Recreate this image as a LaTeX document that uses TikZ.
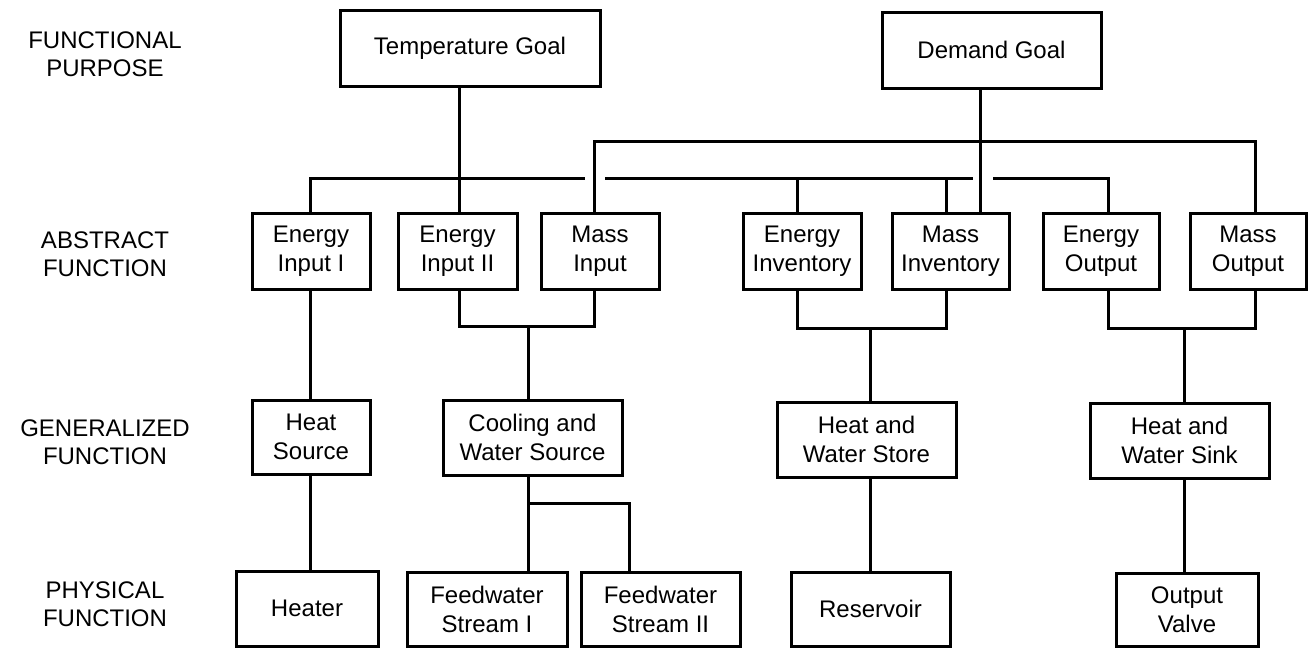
\documentclass[tikz,border=0pt]{standalone}
\usepackage{fontspec}
\setmainfont{Liberation Sans}
\begin{document}
\begin{tikzpicture}[x=0.5pt,y=-0.5pt,
  box/.style={draw,line width=1.5pt,align=center,inner sep=0pt,
    font=\fontsize{12}{14.5}\selectfont},
  lvl/.style={align=center,inner sep=0pt,font=\fontsize{12}{14}\selectfont},
  conn/.style={line width=1.5pt,line join=miter}]
\useasboundingbox (0,0) rectangle (1312,648);
\fill[white] (0,0) rectangle (1312,648);

% level labels
\node[lvl] (l1) at (105,54) {FUNCTIONAL\\PURPOSE};
\node[lvl] (l2) at (105,254) {ABSTRACT\\FUNCTION};
\node[lvl] (l3) at (105,442) {GENERALIZED\\FUNCTION};
\node[lvl] (l4) at (105,604) {PHYSICAL\\FUNCTION};

% functional purpose
\node[box,minimum width=130pt,minimum height=38pt] (tg) at (470,48) {Temperature Goal};
\node[box,minimum width=109.5pt,minimum height=38pt] (dg) at (991.5,50) {Demand Goal};

% abstract function
\node[box,minimum width=59pt,minimum height=38pt] (ei1) at (311,251) {Energy\\Input I};
\node[box,minimum width=59.5pt,minimum height=38pt] (ei2) at (457.5,251) {Energy\\Input II};
\node[box,minimum width=59pt,minimum height=38pt] (mi) at (600,251) {Mass\\Input};
\node[box,minimum width=59pt,minimum height=38pt] (einv) at (802,251) {Energy\\Inventory};
\node[box,minimum width=58.5pt,minimum height=38pt] (minv) at (950.5,251) {Mass\\Inventory};
\node[box,minimum width=58pt,minimum height=38pt] (eo) at (1101,251) {Energy\\Output};
\node[box,minimum width=58pt,minimum height=38pt] (mo) at (1248,251) {Mass\\Output};

% generalized function
\node[box,minimum width=59pt,minimum height=37pt] (hs) at (311,437) {Heat\\Source};
\node[box,minimum width=89.5pt,minimum height=37.5pt] (cws) at (532.5,437.5) {Cooling and\\Water Source};
\node[box,minimum width=89.5pt,minimum height=37.5pt] (hwst) at (866.5,439.5) {Heat and\\Water Store};
\node[box,minimum width=89.5pt,minimum height=37.5pt] (hwsk) at (1179.5,440.5) {Heat and\\Water Sink};

% physical function
\node[box,minimum width=71pt,minimum height=37.5pt] (heater) at (307,608.5) {Heater};
\node[box,minimum width=80pt,minimum height=37pt] (fw1) at (487,609) {Feedwater\\Stream I};
\node[box,minimum width=79.5pt,minimum height=37pt] (fw2) at (660.5,609) {Feedwater\\Stream II};
\node[box,minimum width=79.5pt,minimum height=37pt] (res) at (870.5,609) {Reservoir};
\node[box,minimum width=71pt,minimum height=36.5pt] (ov) at (1187,609.5) {Output\\Valve};

% connector coordinates
\coordinate (e1x) at (310,0);
\coordinate (tx) at (459,0);
\coordinate (mx) at (594,0);
\coordinate (d1x) at (797,0);
\coordinate (d2x) at (946,0);
\coordinate (dx) at (980.5,0);
\coordinate (d3x) at (1108,0);
\coordinate (mox) at (1255,0);
\coordinate (ub) at (0,141);
\coordinate (lb) at (0,178);
\coordinate (gA) at (585,178);
\coordinate (gB) at (605,178);
\coordinate (gC) at (973,178);
\coordinate (gD) at (993,178);
\coordinate (b1) at (0,326);
\coordinate (b2) at (0,328);
\coordinate (cwx) at (528,0);
\coordinate (hwx) at (870,0);
\coordinate (skx) at (1184.5,0);
\coordinate (brY) at (0,503);
\coordinate (f2x) at (629,0);

% temperature goal link
\draw[conn] (tg.south -| tx) -- (ei2.north -| tx);
% demand goal link
\draw[conn] (dg.south -| dx) -- (minv.north -| dx);

% energy bus (lower)
\draw[conn] (ei1.north -| e1x) |- (gA);
\draw[conn] (gB) -- (gC);
\draw[conn] (gD) -| (eo.north -| d3x);
\draw[conn] (einv.north -| d1x) -- (d1x |- lb);
\draw[conn] (minv.north -| d2x) -- (d2x |- lb);

% mass bus (upper)
\draw[conn] (mi.north -| mx) -- (mx |- ub) -- (mox |- ub) -- (mo.north -| mox);

% abstract -> generalized
\draw[conn] (ei1.south -| e1x) -- (hs.north -| e1x);
\draw[conn] (ei2.south -| tx) -- (tx |- b1) -- (mx |- b1) -- (mi.south -| mx);
\draw[conn] (cwx |- b1) -- (cws.north -| cwx);
\draw[conn] (einv.south -| d1x) -- (d1x |- b2) -- (d2x |- b2) -- (minv.south -| d2x);
\draw[conn] (hwx |- b2) -- (hwst.north -| hwx);
\draw[conn] (eo.south -| d3x) -- (d3x |- b2) -- (mox |- b2) -- (mo.south -| mox);
\draw[conn] (skx |- b2) -- (hwsk.north -| skx);

% generalized -> physical
\draw[conn] (hs.south -| e1x) -- (heater.north -| e1x);
\draw[conn] (cws.south -| cwx) -- (fw1.north -| cwx);
\draw[conn] (cwx |- brY) -- (f2x |- brY) -- (fw2.north -| f2x);
\draw[conn] (hwst.south -| hwx) -- (res.north -| hwx);
\draw[conn] (hwsk.south -| skx) -- (ov.north -| skx);
\end{tikzpicture}
\end{document}
